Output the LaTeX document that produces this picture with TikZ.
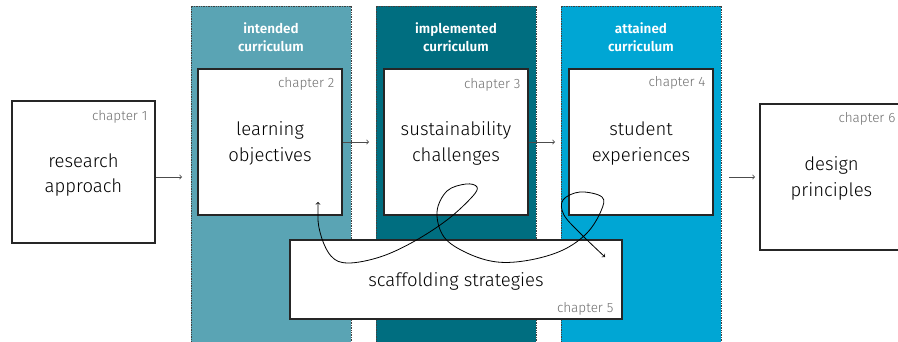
\documentclass[tikz,border=0pt]{standalone}
\usepackage{fontspec}
\setmainfont{Fira Sans}[UprightFont=* Light, BoldFont=* SemiBold]
\usepackage{tikz}
\usetikzlibrary{positioning}
\definecolor{intended}{RGB}{90,164,180}
\definecolor{implemented}{RGB}{0,110,128}
\definecolor{attained}{RGB}{0,166,212}
\definecolor{chapgray}{RGB}{110,110,110}
\newcommand{\chapfont}{\fontsize{13.5}{16}\selectfont}

\tikzset{
  column/.style={draw=black!75, densely dotted, line width=0.7pt},
  chbox/.style={draw=black!85, fill=white, line width=1.1pt, inner sep=0pt,
    minimum width=144pt, minimum height=146pt},
  maintext/.style={align=center, inner sep=0pt,
    font=\fontsize{18.5}{25.5}\selectfont, text=black},
  chaplabel/.style={anchor=base east, inner sep=0pt, font=\chapfont, text=chapgray},
  header/.style={align=center, font=\bfseries\fontsize{13.5}{17.5}\selectfont, text=white},
  flow/.style={->, line width=0.8pt, draw=black!70},
}

\begin{document}
\begin{tikzpicture}[x=1pt,y=-1pt]
    \useasboundingbox (0,0) rectangle (898,342);

    % curriculum columns
    \fill[intended] (191,6) rectangle (351,343);
    \fill[implemented] (376,6) rectangle (536,343);
    \fill[attained] (561,6) rectangle (721,343);
    \draw[column] (191,343) -- (191,6) -- (351,6) -- (351,343);
    \draw[column] (376,343) -- (376,6) -- (536,6) -- (536,343);
    \draw[column] (561,343) -- (561,6) -- (721,6) -- (721,343);
    \node[header] (intended) at (271,37) {intended\\curriculum};
    \node[header] (implemented) at (456,37) {implemented\\curriculum};
    \node[header] (attained) at (641,37) {attained\\curriculum};

    % chapters
    \node[chbox, minimum width=143pt, minimum height=142pt] (ch1) at (83.5,172) {};
    \node[chbox] (ch2) at (270,142) {};
    \node[chbox] (ch3) at (456,142) {};
    \node[chbox] (ch4) at (641,142) {};
    \node[chbox, minimum width=332pt, minimum height=79pt] (ch5) at (456,279.5) {};
    \node[chbox, minimum width=143pt] (ch6) at (831.5,177) {};

    \node[maintext] (t1) at ([yshift=-3pt]ch1.center) {research\\approach};
    \node[maintext] (t2) at ([yshift=-1.5pt]ch2.center) {learning\\objectives};
    \node[maintext] (t3) at ([yshift=-1.5pt]ch3.center) {sustainability\\challenges};
    \node[maintext] (t4) at ([yshift=-1.5pt]ch4.center) {student\\experiences};
    \node[maintext] (t5) at ([yshift=-2pt]ch5.center) {scaffolding strategies};
    \node[maintext] (t6) at ([yshift=-1.5pt]ch6.center) {design\\principles};

    \node[chaplabel] (c1) at ([shift={(-8,20)}]ch1.north east) {chapter 1};
    \node[chaplabel] (c2) at ([shift={(-8,19)}]ch2.north east) {chapter 2};
    \node[chaplabel] (c3) at ([shift={(-8,20)}]ch3.north east) {chapter 3};
    \node[chaplabel] (c4) at ([shift={(-8,18)}]ch4.north east) {chapter 4};
    \node[chaplabel] (c5) at ([shift={(-9,-7)}]ch5.south east) {chapter 5};
    \node[chaplabel] (c6) at ([shift={(-8,19)}]ch6.north east) {chapter 6};

    % flow between chapters
    \coordinate (in2) at (182,177);
    \coordinate (in3) at (369,142);
    \coordinate (in4) at (555,142);
    \coordinate (out4) at (729,177);
    \coordinate (in6) at (755,177);
    \draw[flow] (ch1.east |- in2) -- (in2);
    \draw[flow] (ch2.east |- in3) -- (in3);
    \draw[flow] (ch3.east |- in4) -- (in4);
    \draw[flow] (out4) -- (in6);

    % scaffolding loops
    \coordinate (loopstart) at (318,202);
    \coordinate (loopend) at (605,257);
    \draw[<->, line width=0.8pt] plot[smooth, tension=0.6] coordinates {
      (loopstart) (320,232) (331,256) (348,263) (380,257) (413,242) (447,220)
      (472,197) (477,187) (466,184) (447,191) (437,212) (444,237) (467,253)
      (497,262) (530,260) (563,250) (587,233) (601,211) (602,197) (580,192)
      (563,200) (564,215) (581,234) (loopend)};
\end{tikzpicture}
\end{document}
